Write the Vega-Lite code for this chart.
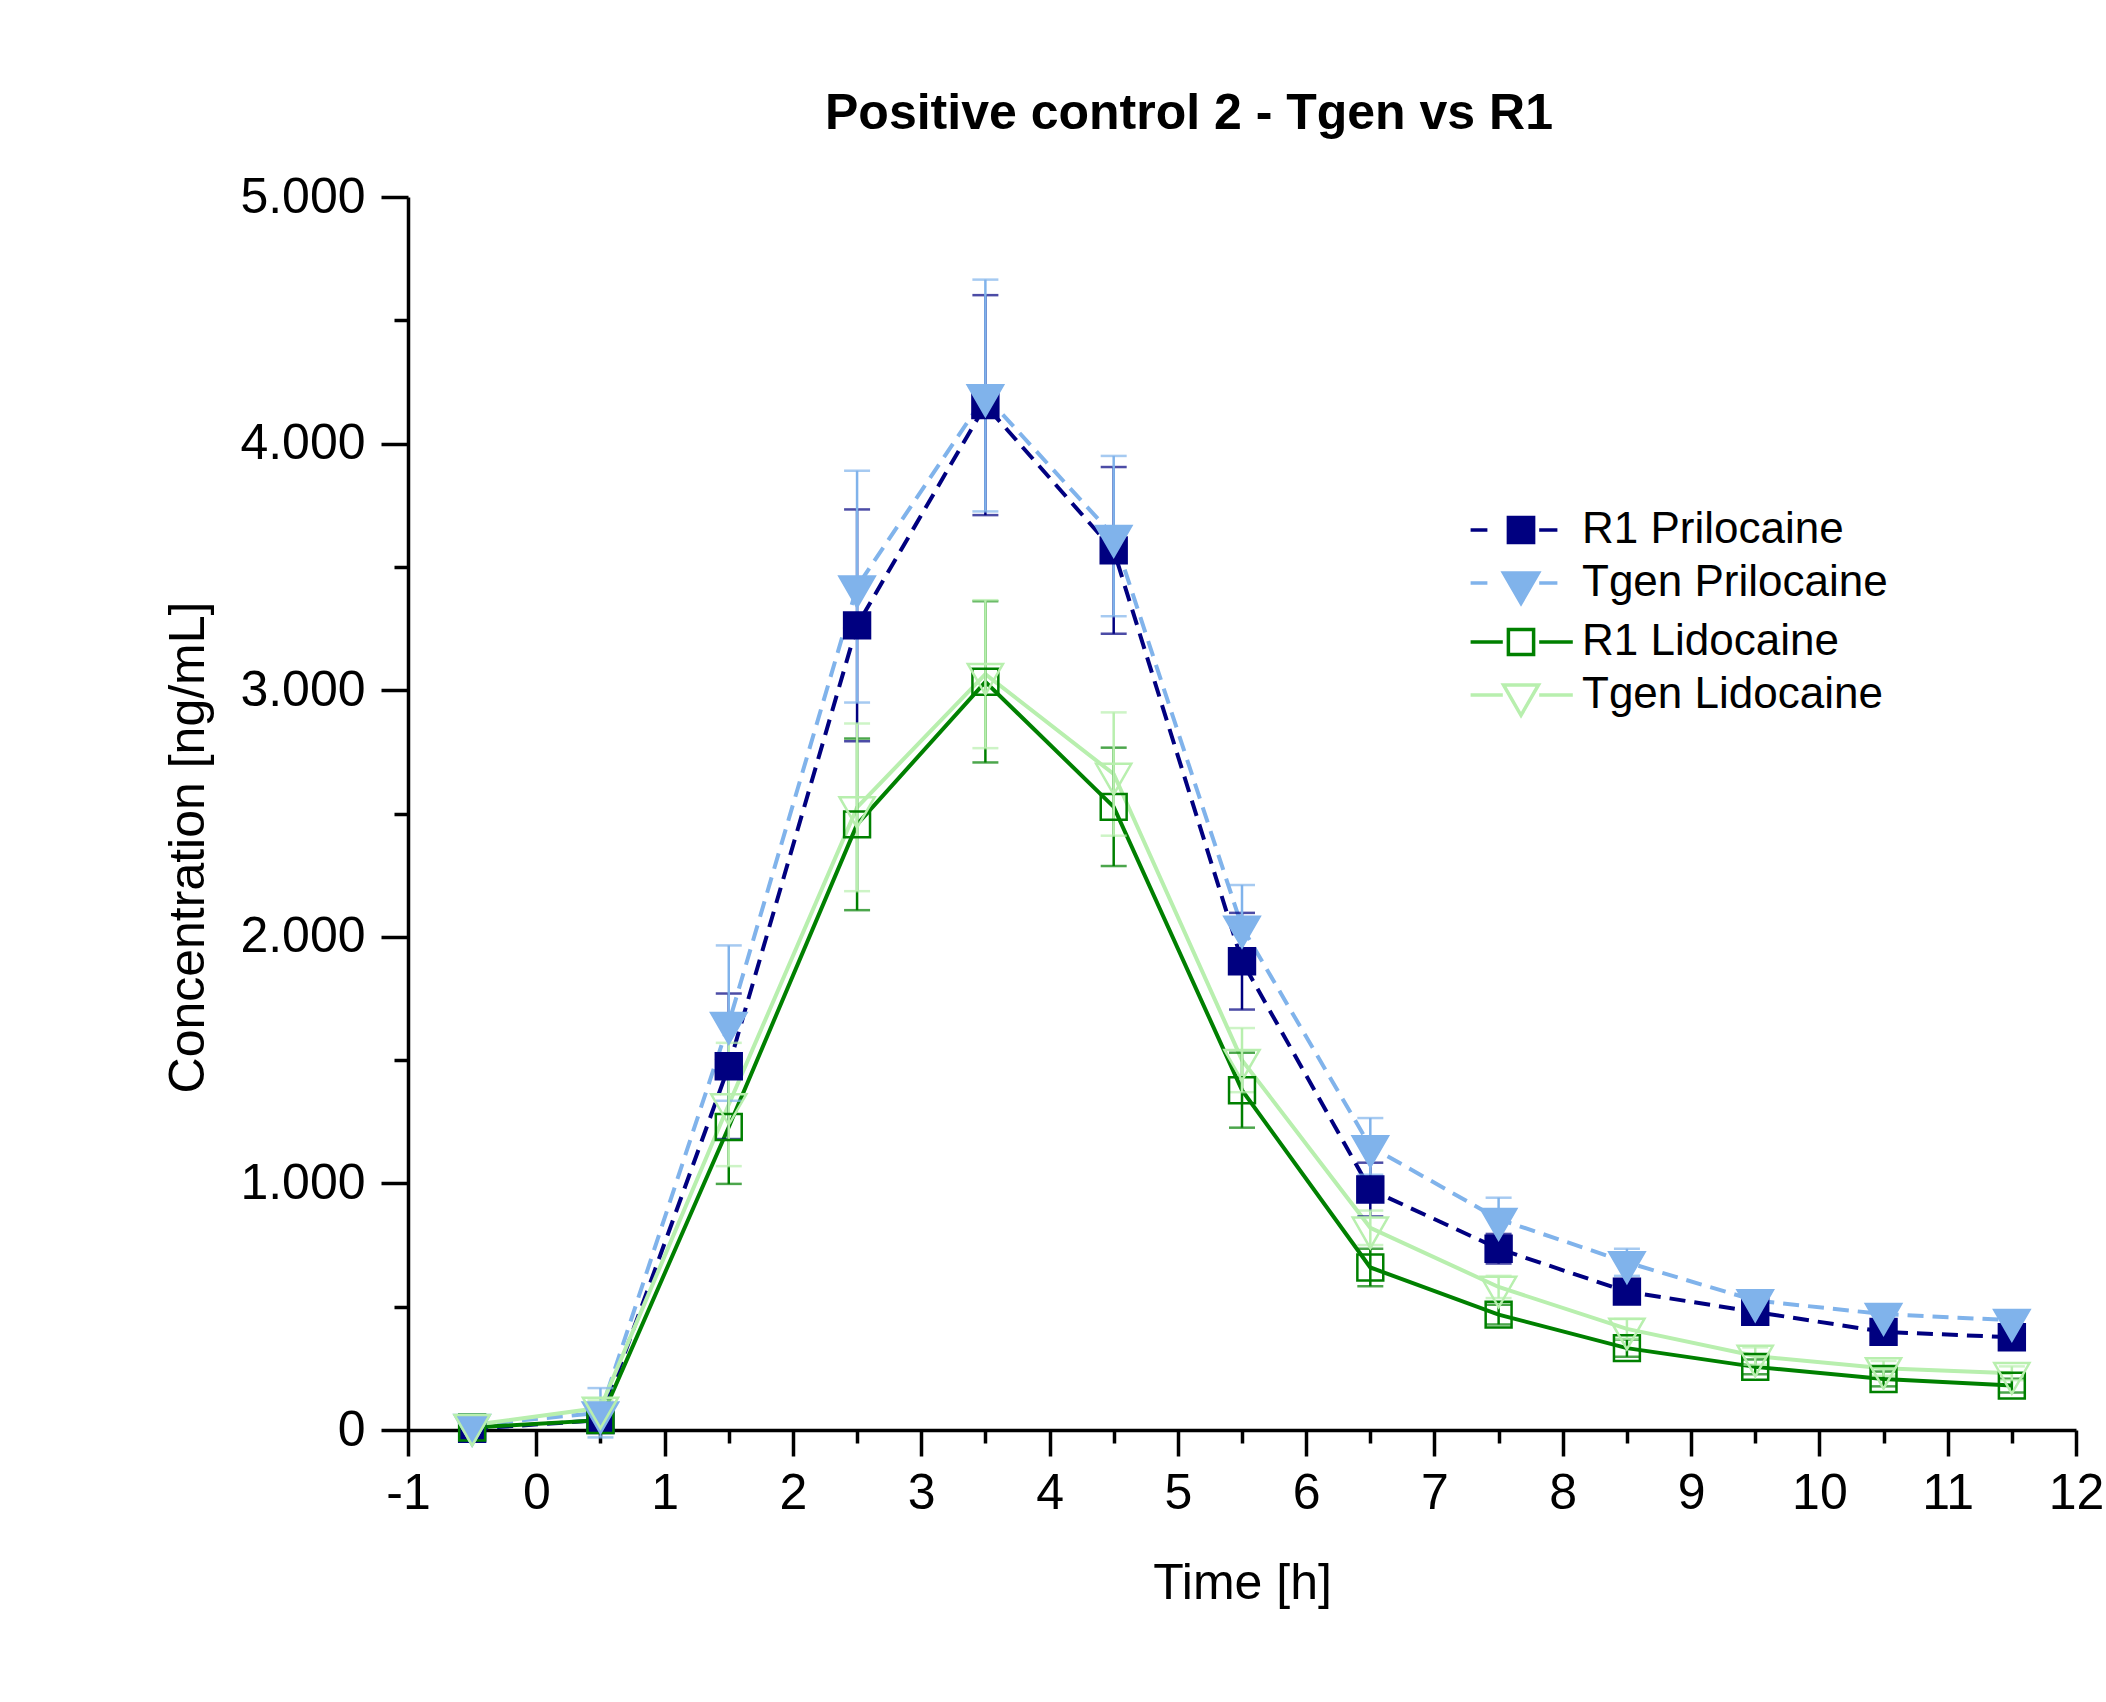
{
  "$schema": "https://vega.github.io/schema/vega-lite/v6.json",
  "width": 1668,
  "height": 1233,
  "autosize": {"type": "none"},
  "padding": {"left": 408, "top": 197, "right": 30, "bottom": 272},
  "background": "white",
  "config": {"view": {"stroke": null}, "font": "Liberation Sans"},
  "title": {
    "text": "Positive control 2 - Tgen vs R1",
    "font": "Liberation Sans",
    "fontSize": 50,
    "fontWeight": "bold",
    "color": "black",
    "anchor": "middle",
    "dx": -53,
    "offset": 33
  },
  "data": {
    "values": [
      {"series": "R1 Prilocaine", "time": -0.5, "mean": 5, "sd": 5},
      {"series": "R1 Prilocaine", "time": 0.5, "mean": 40, "sd": 30},
      {"series": "R1 Prilocaine", "time": 1.5, "mean": 1475, "sd": 295},
      {"series": "R1 Prilocaine", "time": 2.5, "mean": 3263, "sd": 470},
      {"series": "R1 Prilocaine", "time": 3.5, "mean": 4156, "sd": 446},
      {"series": "R1 Prilocaine", "time": 4.5, "mean": 3567, "sd": 338},
      {"series": "R1 Prilocaine", "time": 5.5, "mean": 1901, "sd": 196},
      {"series": "R1 Prilocaine", "time": 6.5, "mean": 975, "sd": 109},
      {"series": "R1 Prilocaine", "time": 7.5, "mean": 735, "sd": 60},
      {"series": "R1 Prilocaine", "time": 8.5, "mean": 561, "sd": 44},
      {"series": "R1 Prilocaine", "time": 9.5, "mean": 479, "sd": 30},
      {"series": "R1 Prilocaine", "time": 10.5, "mean": 398, "sd": 30},
      {"series": "R1 Prilocaine", "time": 11.5, "mean": 376, "sd": 25},
      {"series": "Tgen Prilocaine", "time": -0.5, "mean": 20, "sd": 10},
      {"series": "Tgen Prilocaine", "time": 0.5, "mean": 70, "sd": 100},
      {"series": "Tgen Prilocaine", "time": 1.5, "mean": 1650, "sd": 315},
      {"series": "Tgen Prilocaine", "time": 2.5, "mean": 3420, "sd": 470},
      {"series": "Tgen Prilocaine", "time": 3.5, "mean": 4195, "sd": 470},
      {"series": "Tgen Prilocaine", "time": 4.5, "mean": 3625, "sd": 325},
      {"series": "Tgen Prilocaine", "time": 5.5, "mean": 2040, "sd": 170},
      {"series": "Tgen Prilocaine", "time": 6.5, "mean": 1150, "sd": 115},
      {"series": "Tgen Prilocaine", "time": 7.5, "mean": 855, "sd": 87},
      {"series": "Tgen Prilocaine", "time": 8.5, "mean": 680, "sd": 55},
      {"series": "Tgen Prilocaine", "time": 9.5, "mean": 525, "sd": 38},
      {"series": "Tgen Prilocaine", "time": 10.5, "mean": 470, "sd": 40},
      {"series": "Tgen Prilocaine", "time": 11.5, "mean": 445, "sd": 30},
      {"series": "R1 Lidocaine", "time": -0.5, "mean": 10, "sd": 5},
      {"series": "R1 Lidocaine", "time": 0.5, "mean": 40, "sd": 25},
      {"series": "R1 Lidocaine", "time": 1.5, "mean": 1229, "sd": 231},
      {"series": "R1 Lidocaine", "time": 2.5, "mean": 2456, "sd": 348},
      {"series": "R1 Lidocaine", "time": 3.5, "mean": 3034, "sd": 327},
      {"series": "R1 Lidocaine", "time": 4.5, "mean": 2527, "sd": 240},
      {"series": "R1 Lidocaine", "time": 5.5, "mean": 1378, "sd": 152},
      {"series": "R1 Lidocaine", "time": 6.5, "mean": 659, "sd": 76},
      {"series": "R1 Lidocaine", "time": 7.5, "mean": 468, "sd": 40},
      {"series": "R1 Lidocaine", "time": 8.5, "mean": 332, "sd": 35},
      {"series": "R1 Lidocaine", "time": 9.5, "mean": 256, "sd": 30},
      {"series": "R1 Lidocaine", "time": 10.5, "mean": 207, "sd": 30},
      {"series": "R1 Lidocaine", "time": 11.5, "mean": 180, "sd": 28},
      {"series": "Tgen Lidocaine", "time": -0.5, "mean": 20, "sd": 8},
      {"series": "Tgen Lidocaine", "time": 0.5, "mean": 90, "sd": 30},
      {"series": "Tgen Lidocaine", "time": 1.5, "mean": 1320, "sd": 250},
      {"series": "Tgen Lidocaine", "time": 2.5, "mean": 2525, "sd": 340},
      {"series": "Tgen Lidocaine", "time": 3.5, "mean": 3065, "sd": 300},
      {"series": "Tgen Lidocaine", "time": 4.5, "mean": 2660, "sd": 250},
      {"series": "Tgen Lidocaine", "time": 5.5, "mean": 1500, "sd": 130},
      {"series": "Tgen Lidocaine", "time": 6.5, "mean": 820, "sd": 70},
      {"series": "Tgen Lidocaine", "time": 7.5, "mean": 580, "sd": 45},
      {"series": "Tgen Lidocaine", "time": 8.5, "mean": 410, "sd": 40},
      {"series": "Tgen Lidocaine", "time": 9.5, "mean": 300, "sd": 35},
      {"series": "Tgen Lidocaine", "time": 10.5, "mean": 250, "sd": 30},
      {"series": "Tgen Lidocaine", "time": 11.5, "mean": 230, "sd": 28}
    ]
  },
  "encoding": {
    "x": {
      "field": "time",
      "type": "quantitative",
      "scale": {"domain": [-1, 12], "nice": false, "zero": false},
      "axis": {
        "title": "Time [h]",
        "values": [-1, -0.5, 0, 0.5, 1, 1.5, 2, 2.5, 3, 3.5, 4, 4.5, 5, 5.5, 6, 6.5, 7, 7.5, 8, 8.5, 9, 9.5, 10, 10.5, 11, 11.5, 12],
        "labelExpr": "datum.value % 1 === 0 ? toString(datum.value) : ''",
        "tickSize": {"condition": {"test": "datum.value % 1 === 0", "value": 26}, "value": 13},
        "tickWidth": 3.5,
        "tickColor": "black",
        "domainColor": "black",
        "domainWidth": 3.5,
        "grid": false,
        "labelFont": "Liberation Sans",
        "labelFontSize": 50,
        "labelColor": "black",
        "labelPadding": 12,
        "labelFlush": false,
        "labelOverlap": false,
        "titleFont": "Liberation Sans",
        "titleFontSize": 50,
        "titleFontWeight": "normal",
        "titleColor": "black",
        "titlePadding": 40
      }
    },
    "y": {
      "field": "mean",
      "type": "quantitative",
      "scale": {"domain": [0, 5000], "nice": false},
      "axis": {
        "title": "Concentration [ng/mL]",
        "values": [0, 500, 1000, 1500, 2000, 2500, 3000, 3500, 4000, 4500, 5000],
        "labelExpr": "datum.value % 1000 === 0 ? replace(format(datum.value, ','), ',', '.') : ''",
        "tickSize": {"condition": {"test": "datum.value % 1000 === 0", "value": 27}, "value": 14},
        "tickWidth": 3.5,
        "tickColor": "black",
        "domainColor": "black",
        "domainWidth": 3.5,
        "grid": false,
        "labelFont": "Liberation Sans",
        "labelFontSize": 50,
        "labelColor": "black",
        "labelPadding": 16,
        "labelFlush": false,
        "labelOverlap": false,
        "titleFont": "Liberation Sans",
        "titleFontSize": 50,
        "titleFontWeight": "normal",
        "titleColor": "black",
        "titlePadding": 26,
        "titleY": 650
      }
    }
  },
  "layer": [
    {
      "transform": [{"filter": {"field": "series", "oneOf": ["R1 Prilocaine", "Tgen Prilocaine"]}}],
      "mark": {"type": "line", "strokeWidth": 4, "strokeDash": [16, 9]},
      "encoding": {
        "stroke": {
          "field": "series",
          "type": "nominal",
          "scale": {
            "domain": ["R1 Prilocaine", "Tgen Prilocaine", "R1 Lidocaine", "Tgen Lidocaine"],
            "range": ["#000080", "#80B3EB", "#008000", "#B8EFAE"]
          }
        }
      }
    },
    {
      "transform": [{"filter": {"field": "series", "oneOf": ["R1 Lidocaine", "Tgen Lidocaine"]}}],
      "mark": {"type": "line", "strokeWidth": 4},
      "encoding": {
        "stroke": {
          "field": "series",
          "type": "nominal",
          "scale": {
            "domain": ["R1 Prilocaine", "Tgen Prilocaine", "R1 Lidocaine", "Tgen Lidocaine"],
            "range": ["#000080", "#80B3EB", "#008000", "#B8EFAE"]
          }
        }
      }
    },
    {
      "transform": [{"filter": {"field": "series", "equal": "R1 Prilocaine"}}],
      "mark": {"type": "errorbar", "ticks": {"size": 26}, "thickness": 2.5, "color": "#000080"},
      "encoding": {"yError": {"field": "sd"}}
    },
    {
      "transform": [{"filter": {"field": "series", "equal": "Tgen Prilocaine"}}],
      "mark": {"type": "errorbar", "ticks": {"size": 26}, "thickness": 2.5, "color": "#80B3EB"},
      "encoding": {"yError": {"field": "sd"}}
    },
    {
      "transform": [{"filter": {"field": "series", "equal": "R1 Lidocaine"}}],
      "mark": {"type": "errorbar", "ticks": {"size": 26}, "thickness": 2.5, "color": "#008000"},
      "encoding": {"yError": {"field": "sd"}}
    },
    {
      "transform": [{"filter": {"field": "series", "equal": "Tgen Lidocaine"}}],
      "mark": {"type": "errorbar", "ticks": {"size": 26}, "thickness": 2.5, "color": "#B8EFAE"},
      "encoding": {"yError": {"field": "sd"}}
    },
    {
      "transform": [{"filter": {"field": "series", "oneOf": ["R1 Prilocaine", "R1 Lidocaine"]}}],
      "mark": {"type": "point", "filled": true, "size": 1369, "strokeWidth": 2.5, "opacity": 1, "shape": "M-0.7,-0.7H0.7V0.7H-0.7Z"},
      "encoding": {
        "fill": {
          "field": "series",
          "type": "nominal",
          "scale": {
            "domain": ["R1 Prilocaine", "Tgen Prilocaine", "R1 Lidocaine", "Tgen Lidocaine"],
            "range": ["#000080", "#80B3EB", "transparent", "transparent"]
          }
        },
        "stroke": {
          "field": "series",
          "type": "nominal",
          "scale": {
            "domain": ["R1 Prilocaine", "Tgen Prilocaine", "R1 Lidocaine", "Tgen Lidocaine"],
            "range": ["#000080", "#80B3EB", "#008000", "#B8EFAE"]
          }
        }
      }
    },
    {
      "transform": [{"filter": {"field": "series", "oneOf": ["Tgen Prilocaine", "Tgen Lidocaine"]}}],
      "mark": {"type": "point", "filled": true, "size": 1369, "strokeWidth": 2.5, "opacity": 1, "shape": "M-0.95,-0.55H0.95L0,1.1Z"},
      "encoding": {
        "fill": {
          "field": "series",
          "type": "nominal",
          "scale": {
            "domain": ["R1 Prilocaine", "Tgen Prilocaine", "R1 Lidocaine", "Tgen Lidocaine"],
            "range": ["#000080", "#80B3EB", "transparent", "transparent"]
          }
        },
        "stroke": {
          "field": "series",
          "type": "nominal",
          "scale": {
            "domain": ["R1 Prilocaine", "Tgen Prilocaine", "R1 Lidocaine", "Tgen Lidocaine"],
            "range": ["#000080", "#80B3EB", "#008000", "#B8EFAE"]
          }
        }
      }
    },
    {
      "transform": [{"filter": "false"}],
      "mark": {"type": "point", "filled": true, "size": 784, "strokeWidth": 3, "opacity": 1},
      "encoding": {
        "shape": {
          "field": "series",
          "type": "nominal",
          "scale": {
            "domain": ["R1 Prilocaine", "Tgen Prilocaine", "R1 Lidocaine", "Tgen Lidocaine"],
            "range": [
              "M-3.6,0H-2.4M-0.9,-0.9H0.9V0.9H-0.9ZM1.3,0H2.6",
              "M-3.6,0H-2.4M-1.25,-0.72H1.25L0,1.45ZM1.3,0H2.6",
              "M-3.6,0H-1.3M-0.9,-0.9H0.9V0.9H-0.9ZM1.3,0H3.7",
              "M-3.6,0H-1.3M-1.25,-0.72H1.25L0,1.45ZM1.3,0H3.7"
            ]
          },
          "legend": {
            "title": null,
            "orient": "none",
            "legendX": 1091,
            "legendY": 311,
            "padding": 0,
            "rowPadding": 9,
            "symbolSize": 784,
            "symbolStrokeWidth": 3.5,
            "symbolOpacity": 1,
            "labelFont": "Liberation Sans",
            "labelFontSize": 44,
            "labelColor": "black",
            "labelLimit": 800,
            "labelOffset": 39
          }
        },
        "fill": {
          "field": "series",
          "type": "nominal",
          "scale": {
            "domain": ["R1 Prilocaine", "Tgen Prilocaine", "R1 Lidocaine", "Tgen Lidocaine"],
            "range": ["#000080", "#80B3EB", "transparent", "transparent"]
          }
        },
        "stroke": {
          "field": "series",
          "type": "nominal",
          "scale": {
            "domain": ["R1 Prilocaine", "Tgen Prilocaine", "R1 Lidocaine", "Tgen Lidocaine"],
            "range": ["#000080", "#80B3EB", "#008000", "#B8EFAE"]
          }
        }
      }
    }
  ]
}
